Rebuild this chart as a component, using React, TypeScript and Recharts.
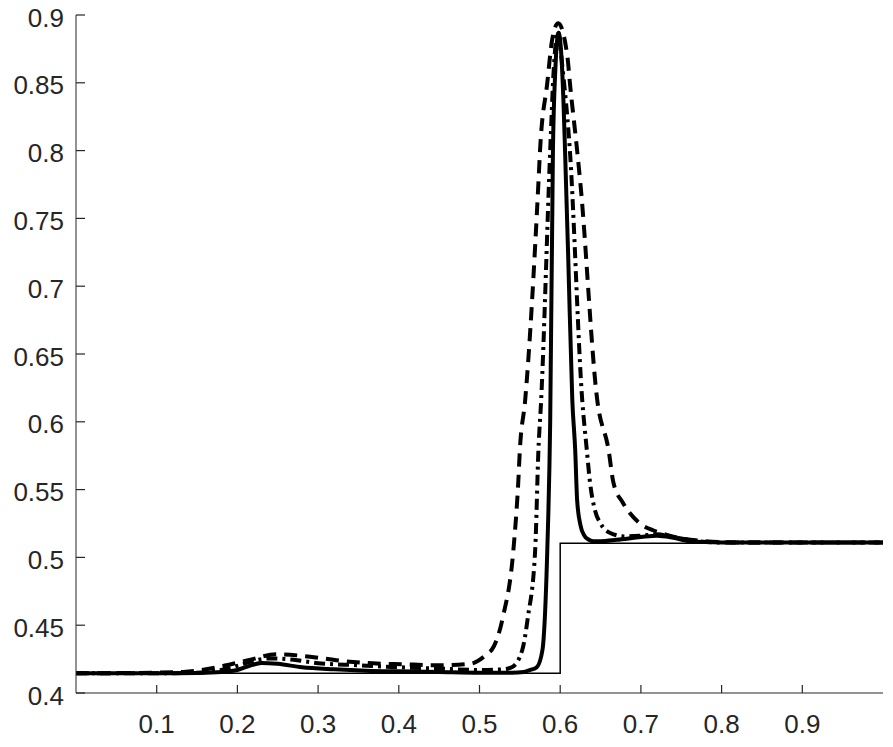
import { Line, LineChart, XAxis, YAxis } from "recharts"

// exact solution (thin step)
const exactX = [0, 0.6, 0.6, 1]
const exactY = [0.4145, 0.4145, 0.5105, 0.5105]

// fine scheme (thick solid)
const solidX = [0, 0.1, 0.15, 0.18, 0.2, 0.215, 0.23, 0.25, 0.28, 0.32, 0.36, 0.4, 0.45, 0.5, 0.54, 0.555, 0.563, 0.571, 0.578, 0.581, 0.584, 0.5876, 0.591, 0.594, 0.598, 0.601, 0.604, 0.606, 0.61, 0.615, 0.6186, 0.621, 0.625, 0.63, 0.635, 0.641, 0.65, 0.67, 0.7, 0.72, 0.74, 0.76, 0.8, 0.9, 1.0]
const solidY = [0.4145, 0.4145, 0.4148, 0.4155, 0.417, 0.42, 0.4222, 0.4215, 0.419, 0.4175, 0.4165, 0.416, 0.4155, 0.415, 0.415, 0.4155, 0.417, 0.419, 0.4317, 0.456, 0.5055, 0.6, 0.8, 0.86, 0.887, 0.874, 0.837, 0.8, 0.72, 0.616, 0.579, 0.542, 0.524, 0.516, 0.5132, 0.512, 0.512, 0.513, 0.515, 0.516, 0.5145, 0.512, 0.511, 0.511, 0.511]

// dash-dot scheme
const dashDotX = [0, 0.1, 0.15, 0.18, 0.2, 0.216, 0.24, 0.27, 0.3, 0.35, 0.4, 0.45, 0.5, 0.53, 0.54, 0.553, 0.56, 0.569, 0.573, 0.5764, 0.5876, 0.592, 0.597, 0.603, 0.612, 0.6273, 0.633, 0.637, 0.643, 0.65, 0.662, 0.68, 0.7, 0.72, 0.74, 0.77, 0.8, 0.9, 1.0]
const dashDotY = [0.4145, 0.4145, 0.415, 0.417, 0.42, 0.423, 0.4255, 0.4245, 0.422, 0.4205, 0.419, 0.418, 0.417, 0.4175, 0.419, 0.4317, 0.456, 0.5055, 0.579, 0.616, 0.8, 0.86, 0.888, 0.86, 0.8, 0.616, 0.579, 0.555, 0.535, 0.525, 0.518, 0.5155, 0.516, 0.517, 0.515, 0.512, 0.511, 0.511, 0.511]

// coarse scheme (dashed)
const dashedX = [0, 0.1, 0.133, 0.175, 0.212, 0.249, 0.29, 0.327, 0.368, 0.405, 0.447, 0.488, 0.511, 0.515, 0.529, 0.542, 0.548, 0.55, 0.5566, 0.573, 0.575, 0.584, 0.59, 0.5975, 0.609, 0.612, 0.621, 0.625, 0.6459, 0.66, 0.666, 0.678, 0.699, 0.715, 0.73, 0.75, 0.78, 0.82, 1.0]
const dashedY = [0.4145, 0.415, 0.4155, 0.419, 0.424, 0.4285, 0.4268, 0.4238, 0.4219, 0.4212, 0.4205, 0.4215, 0.4295, 0.4317, 0.456, 0.5055, 0.555, 0.579, 0.616, 0.776, 0.8, 0.85, 0.8816, 0.894, 0.869, 0.85, 0.8, 0.776, 0.616, 0.579, 0.555, 0.54, 0.525, 0.52, 0.517, 0.514, 0.512, 0.511, 0.511]

const xTicks = [0.1, 0.2, 0.3, 0.4, 0.5, 0.6, 0.7, 0.8, 0.9]
const yTicks = [0.4, 0.45, 0.5, 0.55, 0.6, 0.65, 0.7, 0.75, 0.8, 0.85, 0.9]

const zip = (xs: number[], ys: number[]) => xs.map((x, i) => ({ x, y: ys[i] }))

const axisColor = "#262626"
const font = "'Liberation Sans', Arial, sans-serif"

// ticks point inward, like matlab
function XTick(props: any) {
  const { x, y, payload } = props
  return (
    <g>
      <line x1={x} x2={x} y1={y - 8} y2={y} stroke={axisColor} strokeWidth={1.2} />
      <text x={x} y={y + 40} textAnchor="middle" fill={axisColor} fontSize={26} fontFamily={font}>
        {String(payload.value)}
      </text>
    </g>
  )
}

function YTick(props: any) {
  const { x, y, payload } = props
  return (
    <g>
      <line x1={x} x2={x + 9} y1={y} y2={y} stroke={axisColor} strokeWidth={1.2} />
      <text x={x - 12} y={y + 11.5} textAnchor="end" fill={axisColor} fontSize={26} fontFamily={font}>
        {String(payload.value)}
      </text>
    </g>
  )
}

export default function App() {
  return (
    <div style={{ position: "absolute", left: 0, top: 0, background: "#fff" }}>
      <LineChart width={893} height={747} margin={{ top: 15, right: 10, left: 0, bottom: 0 }}>
        <XAxis
          dataKey="x"
          type="number"
          domain={[0, 1]}
          ticks={xTicks}
          height={54}
          tickLine={false}
          tickSize={0}
          tickMargin={0}
          stroke={axisColor}
          tick={XTick}
          interval={0}
          allowDuplicatedCategory={false}
        />
        <YAxis
          type="number"
          domain={[0.4, 0.9]}
          ticks={yTicks}
          width={76}
          tickLine={false}
          tickSize={0}
          tickMargin={0}
          stroke={axisColor}
          tick={YTick}
          interval={0}
          allowDataOverflow
        />
        <Line data={zip(exactX, exactY)} dataKey="y" type="linear" stroke="#000" strokeWidth={1.5} dot={false} activeDot={false} isAnimationActive={false} />
        <Line data={zip(dashedX, dashedY)} dataKey="y" type="monotone" stroke="#000" strokeWidth={4} strokeDasharray="13 8" dot={false} activeDot={false} isAnimationActive={false} />
        <Line data={zip(dashDotX, dashDotY)} dataKey="y" type="monotone" stroke="#000" strokeWidth={4} strokeDasharray="11 5 3 5" dot={false} activeDot={false} isAnimationActive={false} />
        <Line data={zip(solidX, solidY)} dataKey="y" type="monotone" stroke="#000" strokeWidth={4} dot={false} activeDot={false} isAnimationActive={false} />
      </LineChart>
    </div>
  )
}
